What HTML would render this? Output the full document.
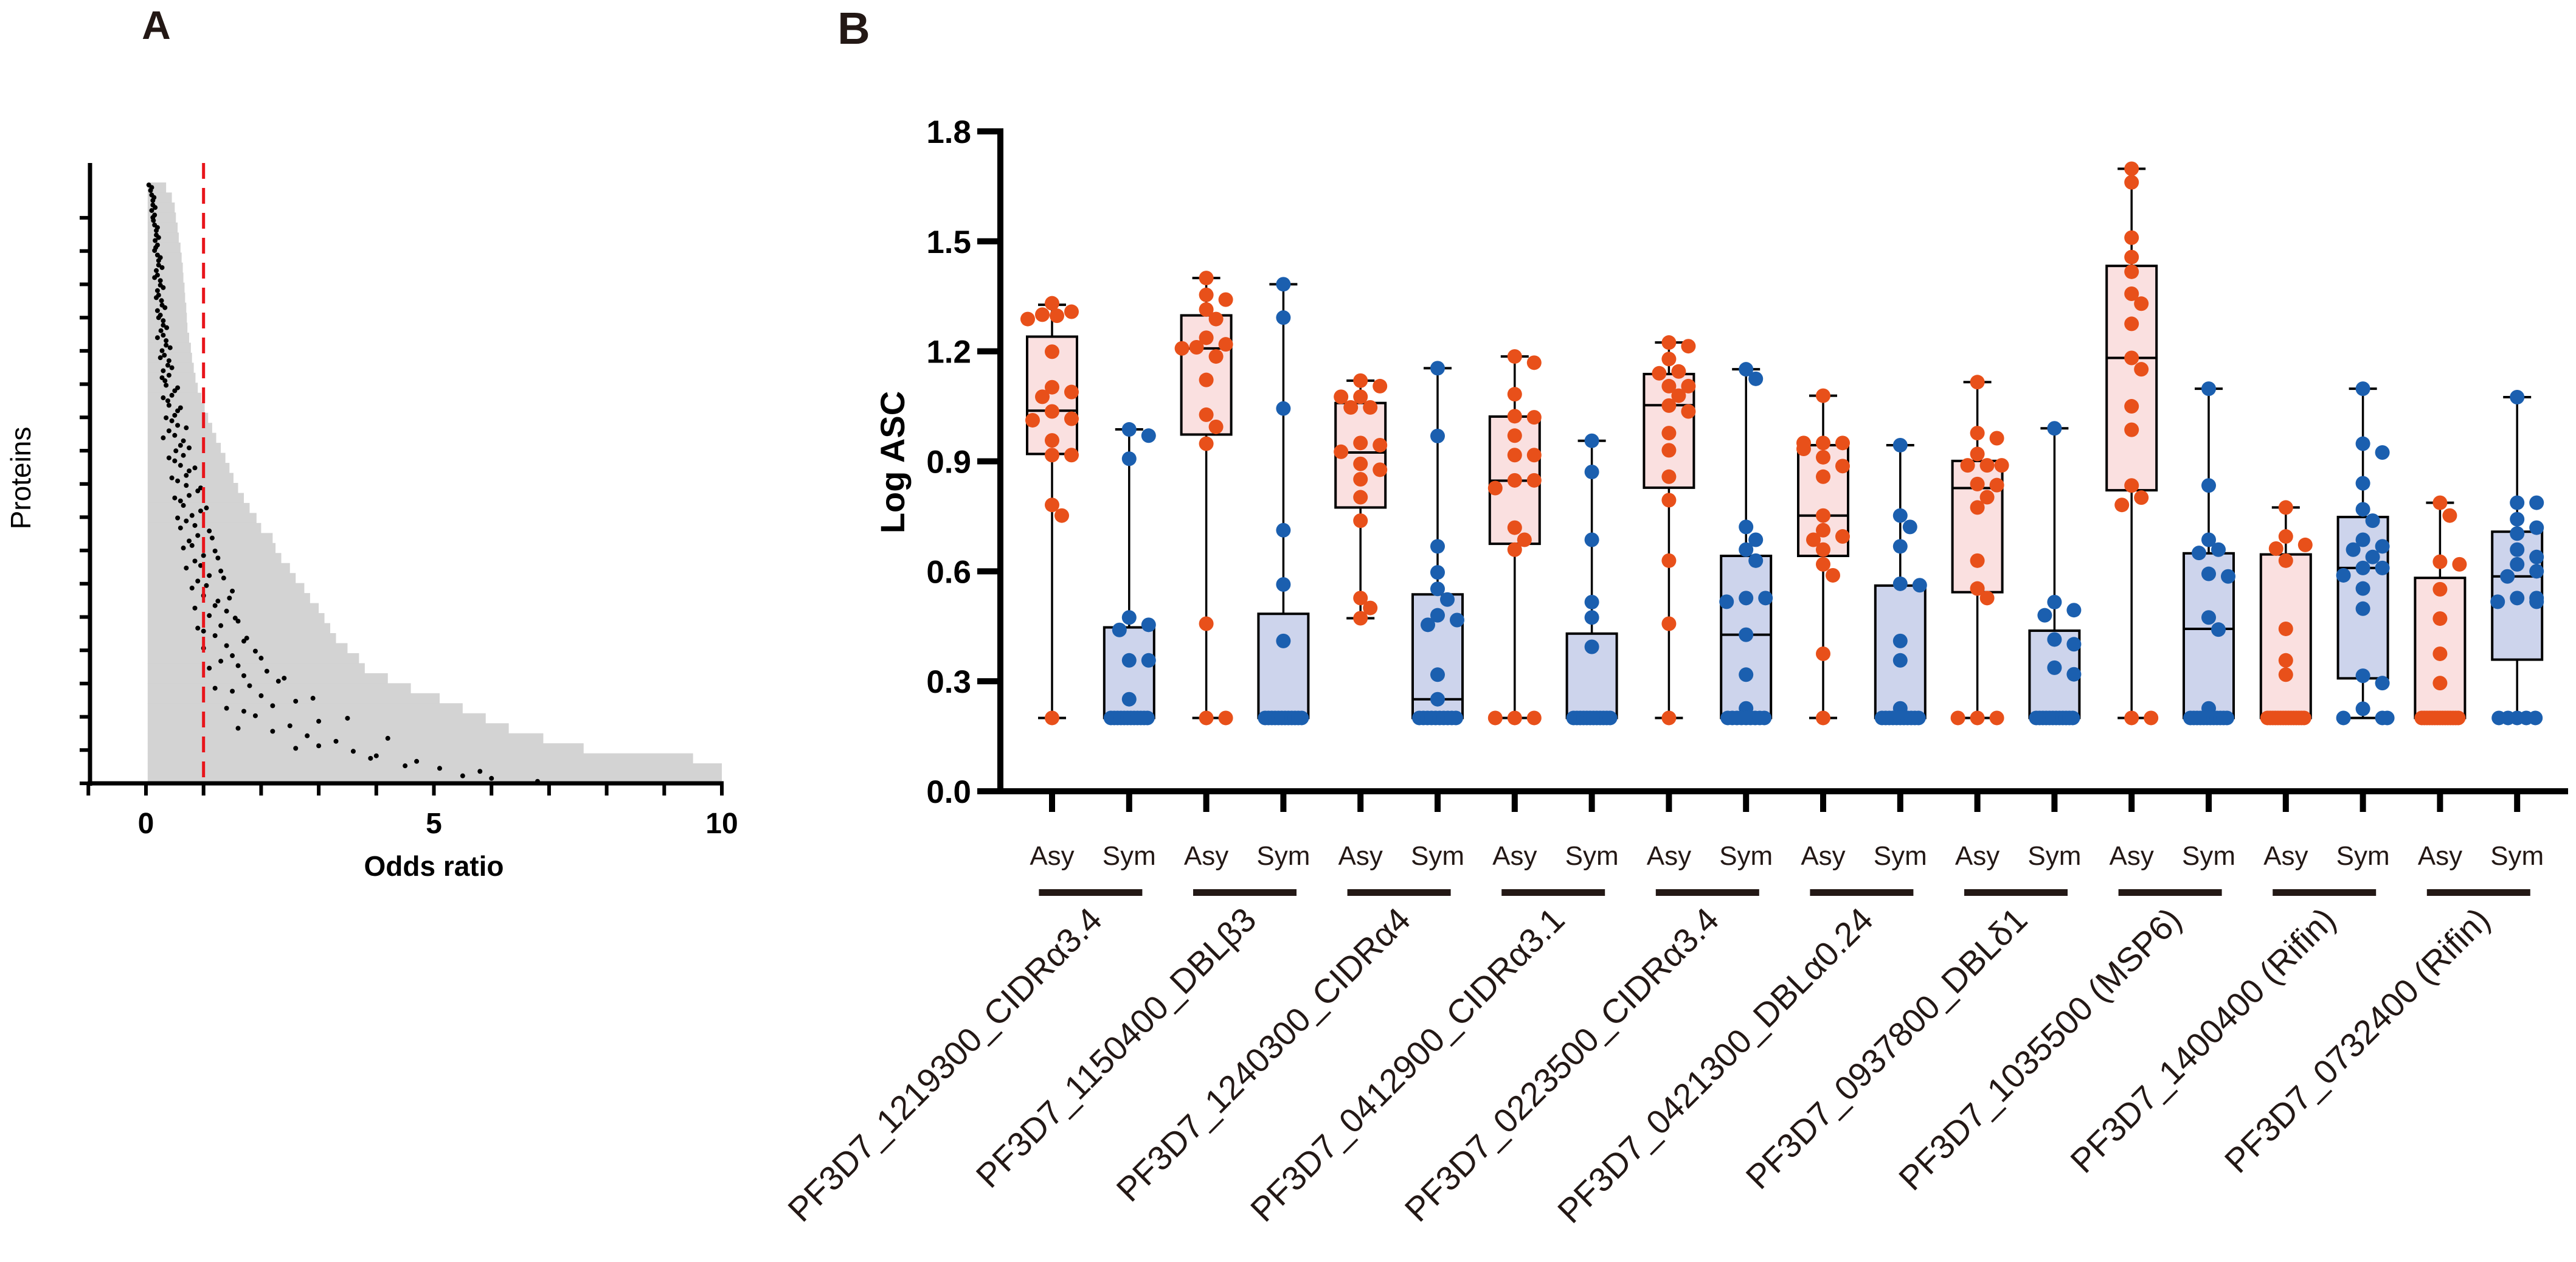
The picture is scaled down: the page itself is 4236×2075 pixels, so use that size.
<!DOCTYPE html>
<html><head><meta charset="utf-8"><style>
html,body{margin:0;padding:0;background:#fff;}
svg{display:block;font-family:"Liberation Sans",Arial,sans-serif;}
</style></head><body>
<svg id="fig" width="4236" height="2075" viewBox="0 0 4236 2075" xmlns="http://www.w3.org/2000/svg">
<rect width="4236" height="2075" fill="#fff"/>
<text x="257" y="64" font-size="66" font-weight="bold" text-anchor="middle" fill="#231815">A</text>
<text x="1404" y="72" font-size="74" font-weight="bold" text-anchor="middle" fill="#231815">B</text>
<g id="panelA"></g>
<g id="panelB"></g>
</svg>
<script>
// ---------- Panel A data ----------
const oddsUpper = [0.35,0.45,0.5,0.52,0.55,0.57,0.6,0.62,0.64,0.65,0.67,0.68,0.7,0.71,0.72,0.75,0.78,0.8,0.83,0.86,0.9,0.96,1.02,1.08,1.15,1.22,1.3,1.38,1.45,1.52,1.6,1.7,1.8,1.92,2.0,2.2,2.25,2.35,2.5,2.6,2.75,2.85,3.0,3.1,3.2,3.3,3.5,3.7,3.8,4.2,4.6,5.1,5.5,5.9,6.3,6.9,7.6,9.5,10,10];
const oddsPoint = [0.05,0.1,0.12,0.15,0.15,0.18,0.2,0.2,0.22,0.2,0.25,0.22,0.28,0.25,0.3,0.3,0.35,0.32,0.38,0.4,0.35,0.45,0.4,0.5,0.55,0.5,0.6,0.65,0.6,0.7,0.7,0.75,0.65,0.8,0.85,0.9,0.8,1.0,0.95,1.1,1.05,1.0,1.2,1.1,1.3,1.2,1.4,1.5,1.6,1.7,1.8,2.0,2.2,1.9,2.5,2.8,3.0,4.0,4.5,5.5];
const oddsPoint2 = [0.08,0.12,0.1,0.13,0.18,0.16,0.15,0.22,0.18,0.25,0.2,0.27,0.2,0.3,0.26,0.35,0.28,0.4,0.3,0.33,0.5,0.38,0.55,0.45,0.4,0.65,0.52,0.5,0.75,0.55,0.9,0.6,0.95,0.7,1.1,0.75,1.2,0.85,1.3,0.9,1.5,1.25,1.4,1.6,1.0,1.7,1.9,1.3,2.1,2.3,1.5,2.6,1.7,3.0,2.2,3.3,3.6,4.7,5.8,6.8];
const oddsPoint3 = [0.1,0.14,0.16,0.12,0.2,0.22,0.17,0.25,0.28,0.15,0.3,0.18,0.33,0.22,0.36,0.2,0.42,0.25,0.45,0.28,0.55,0.3,0.6,0.35,0.7,0.3,0.75,0.4,0.85,0.45,0.95,0.5,1.05,0.55,0.6,1.15,0.65,1.25,0.7,1.35,0.8,1.45,0.85,1.55,0.9,1.75,1.0,2.0,1.1,2.4,1.2,2.9,1.4,3.5,1.6,4.2,2.6,3.9,5.1,6.0];
const oddsTicks = [0,5,10];

// ---------- Panel B data ----------
const proteins = ["PF3D7_1219300_CIDRα3.4","PF3D7_1150400_DBLβ3","PF3D7_1240300_CIDRα4","PF3D7_0412900_CIDRα3.1","PF3D7_0223500_CIDRα3.4","PF3D7_0421300_DBLα0.24","PF3D7_0937800_DBLδ1","PF3D7_1035500 (MSP6)","PF3D7_1400400 (Rifin)","PF3D7_0732400 (Rifin)"];
const groupNames = ["Asy","Sym"];
const yTicks = [0.0,0.3,0.6,0.9,1.2,1.5,1.8];
// [min, q1, median, q3, max] per box, order: Asy1,Sym1,Asy2,Sym2,...
const boxStats = [
 [0.2,0.92,1.038,1.24,1.327],[0.2,0.2,0.2,0.447,0.987],
 [0.2,0.973,1.208,1.298,1.40],[0.2,0.2,0.2,0.484,1.383],
 [0.472,0.774,0.924,1.059,1.12],[0.2,0.2,0.251,0.537,1.154],
 [0.2,0.675,0.847,1.022,1.186],[0.2,0.2,0.2,0.43,0.956],
 [0.2,0.828,1.053,1.138,1.224],[0.2,0.2,0.427,0.642,1.151],
 [0.2,0.642,0.752,0.944,1.079],[0.2,0.2,0.2,0.561,0.944],
 [0.2,0.543,0.827,0.901,1.116],[0.2,0.2,0.2,0.438,0.99],
 [0.2,0.821,1.182,1.433,1.698],[0.2,0.2,0.443,0.649,1.098],
 [0.2,0.2,0.2,0.646,0.774],[0.2,0.308,0.609,0.748,1.098],
 [0.2,0.2,0.2,0.582,0.787],[0.2,0.359,0.586,0.708,1.075]
];
const pts0 = [1.331,1.308,1.30,1.297,1.288,1.199,1.102,1.089,1.076,1.036,1.016,1.012,0.957,0.917,0.917,0.781,0.752,0.2];
const pts1 = [0.987,0.97,0.907,0.474,0.454,0.44,0.357,0.357,0.251,0.2,0.2,0.2,0.2,0.2,0.2,0.2,0.2,0.2,0.2,0.2,0.2];
const pts2 = [1.40,1.354,1.341,1.314,1.288,1.237,1.219,1.211,1.208,1.186,1.122,1.027,0.994,0.948,0.457,0.2,0.2];
const pts3 = [1.383,1.292,1.044,0.712,0.564,0.41,0.2,0.2,0.2,0.2,0.2,0.2,0.2,0.2,0.2,0.2,0.2,0.2];
const pts4 = [1.12,1.105,1.076,1.076,1.047,1.047,0.95,0.944,0.926,0.893,0.877,0.851,0.802,0.738,0.527,0.5,0.472];
const pts5 = [1.154,0.969,0.668,0.597,0.552,0.523,0.48,0.467,0.454,0.318,0.251,0.2,0.2,0.2,0.2,0.2,0.2,0.2,0.2,0.2,0.2];
const pts6 = [1.186,1.169,1.083,1.023,1.02,0.97,0.917,0.917,0.848,0.848,0.827,0.719,0.686,0.659,0.2,0.2,0.2];
const pts7 = [0.956,0.871,0.686,0.516,0.474,0.394,0.2,0.2,0.2,0.2,0.2,0.2,0.2,0.2,0.2,0.2,0.2,0.2];
const pts8 = [1.224,1.214,1.179,1.145,1.14,1.105,1.105,1.079,1.052,1.036,0.977,0.93,0.858,0.794,0.629,0.457,0.2];
const pts9 = [1.151,1.125,0.721,0.686,0.659,0.629,0.527,0.527,0.517,0.427,0.318,0.226,0.2,0.2,0.2,0.2,0.2,0.2,0.2,0.2,0.2];
const pts10 = [1.079,0.95,0.95,0.95,0.934,0.911,0.887,0.858,0.752,0.712,0.695,0.686,0.659,0.619,0.589,0.375,0.2];
const pts11 = [0.944,0.752,0.721,0.668,0.566,0.562,0.41,0.357,0.226,0.2,0.2,0.2,0.2,0.2,0.2,0.2,0.2,0.2,0.2,0.2];
const pts12 = [1.116,0.977,0.963,0.92,0.889,0.889,0.889,0.838,0.835,0.802,0.774,0.629,0.553,0.527,0.2,0.2,0.2];
const pts13 = [0.99,0.516,0.494,0.48,0.414,0.401,0.337,0.319,0.2,0.2,0.2,0.2,0.2,0.2,0.2,0.2,0.2,0.2,0.2,0.2];
const pts14 = [1.698,1.661,1.51,1.457,1.417,1.357,1.33,1.275,1.182,1.151,1.05,0.986,0.834,0.801,0.781,0.2,0.2];
const pts15 = [1.098,0.834,0.686,0.659,0.65,0.593,0.586,0.474,0.441,0.226,0.2,0.2,0.2,0.2,0.2,0.2,0.2,0.2,0.2,0.2,0.2,0.2];
const pts16 = [0.774,0.695,0.672,0.662,0.629,0.443,0.357,0.318,0.2,0.2,0.2,0.2,0.2,0.2,0.2,0.2,0.2,0.2,0.2,0.2,0.2,0.2,0.2];
const pts17 = [1.098,0.948,0.924,0.84,0.769,0.738,0.686,0.668,0.659,0.639,0.609,0.609,0.589,0.553,0.498,0.315,0.295,0.225,0.2,0.2,0.2];
const pts18 = [0.787,0.752,0.626,0.619,0.551,0.471,0.375,0.295,0.2,0.2,0.2,0.2,0.2,0.2,0.2,0.2,0.2,0.2,0.2,0.2,0.2,0.2,0.2];
const pts19 = [1.075,0.787,0.787,0.742,0.719,0.703,0.659,0.639,0.619,0.6,0.586,0.527,0.527,0.517,0.517,0.2,0.2,0.2,0.2,0.2];
const allPts = [pts0,pts1,pts2,pts3,pts4,pts5,pts6,pts7,pts8,pts9,pts10,pts11,pts12,pts13,pts14,pts15,pts16,pts17,pts18,pts19];

const NS = "http://www.w3.org/2000/svg";
function mk(tag, attrs, parent){ const e=document.createElementNS(NS,tag); for(const k in attrs) e.setAttribute(k,attrs[k]); parent.appendChild(e); return e; }

// ---------- Panel A ----------
(function(){
 const g = document.getElementById('panelA');
 const X0=240, XU=94.7, YT=300, YB=1288;
 const xA = v => X0 + v*XU;
 const n = oddsUpper.length;
 const rowH = (YB-YT)/n;
 const yRow = i => YT + (i+0.5)*rowH;
 oddsUpper.forEach((u,i)=>{
  const r = mk('rect',{x:xA(0.03),y:YT+i*rowH,width:xA(u)-xA(0.03),height:rowH+0.6,fill:'#d3d3d3'},g);
  
  
 });
 const offs = [-0.25,0.3,0.0];
 [oddsPoint,oddsPoint2,oddsPoint3].forEach((arr,ai)=>arr.forEach((p,i)=>{
  const c = mk('circle',{cx:xA(p),cy:yRow(i)+rowH*offs[ai],r:4,fill:'#000'},g);
  
  
 }));
 const dl = mk('line',{x1:xA(1),x2:xA(1),y1:268,y2:YB,stroke:'#e8141a','stroke-width':5,'stroke-dasharray':'26 15'},g);
 
 
 const ya = mk('line',{x1:148,x2:148,y1:268,y2:YB+4,stroke:'#000','stroke-width':7},g);
 
 
 for(let k=0;k<18;k++){
  const yy = YB - k*54.7;
  const t = mk('line',{x1:131,x2:148,y1:yy,y2:yy,stroke:'#000','stroke-width':6},g);
  
  
 }
 const xa = mk('line',{x1:144,x2:xA(10)+3,y1:YB,y2:YB,stroke:'#000','stroke-width':7},g);
 
 
 for(let v=-1; v<=10; v++){
  const t = mk('line',{x1:xA(v),x2:xA(v),y1:YB,y2:YB+20,stroke:'#000','stroke-width':6},g);
  
  
 }
 oddsTicks.forEach(v=>{
  const t = mk('text',{x:xA(v),y:1370,'font-size':48,'font-weight':'bold','text-anchor':'middle',fill:'#000'},g);
  t.textContent = v;
  
  
 });
 const xt = mk('text',{x:xA(5),y:1440,'font-size':46,'font-weight':'bold','text-anchor':'middle',fill:'#000'},g);
 xt.textContent='Odds ratio';
 
 
 const yt = mk('text',{x:0,y:0,'font-size':46,'text-anchor':'middle',fill:'#000',transform:'translate(50,786) rotate(-90)'},g);
 yt.textContent='Proteins';
 
 
})();

// ---------- Panel B ----------
(function(){
 const g = document.getElementById('panelB');
 const Y0=1301, YU=602.8, AX=1645, X1=1730, STEP=126.8;
 const yB = v => Y0 - v*YU;
 const xB = i => X1 + i*STEP;
 const HW=41, CAP=23, R=12;
 const orange='#e8501a', blue='#1b5faf';
 boxStats.forEach((s,i)=>{
  const asy = i%2===0;
  const cx = xB(i);
  const bg = mk('g',{},g);
  
  
  mk('line',{x1:cx,x2:cx,y1:yB(s[4]),y2:yB(s[0]),stroke:'#000','stroke-width':3.5},bg);
  mk('line',{x1:cx-CAP,x2:cx+CAP,y1:yB(s[4]),y2:yB(s[4]),stroke:'#000','stroke-width':4},bg);
  mk('line',{x1:cx-CAP,x2:cx+CAP,y1:yB(s[0]),y2:yB(s[0]),stroke:'#000','stroke-width':4},bg);
  mk('rect',{x:cx-HW,y:yB(s[3]),width:2*HW,height:Math.max(yB(s[1])-yB(s[3]),0.5),fill:asy?'#fae0e0':'#cdd4ec',stroke:'#000','stroke-width':4},bg);
  mk('line',{x1:cx-HW,x2:cx+HW,y1:yB(s[2]),y2:yB(s[2]),stroke:'#000','stroke-width':4},bg);
  const vals = allPts[i].slice().sort((a,b)=>b-a);
  const placed = [];
  const minV = Math.min(...vals);
  const floorCount = vals.filter(v=>v===minV).length;
  let fk = 0;
  vals.forEach(v=>{
   const cy = yB(v);
   let ox;
   if(v===minV && floorCount>=4){
    ox = -30 + 60*fk/(floorCount-1); fk++;
   } else {
    const cands=[0,16,-16,32,-32,8,-8,24,-24,40,-40];
    ox = cands.find(o=>placed.every(p=>Math.hypot(p[0]-o,p[1]-cy)>=2*R-2));
    if(ox===undefined) ox = cands[placed.length%cands.length];
   }
   placed.push([ox,cy]);
   const c = mk('circle',{cx:cx+ox,cy:cy,r:R,fill:asy?orange:blue},g);
   
   
  });
 });
 const ya = mk('line',{x1:AX,x2:AX,y1:211,y2:Y0+5,stroke:'#000','stroke-width':10},g);
 
 
 const xa = mk('line',{x1:AX-5,x2:4223,y1:Y0,y2:Y0,stroke:'#000','stroke-width':10},g);
 
 
 yTicks.forEach(v=>{
  const t = mk('line',{x1:1607,x2:AX,y1:yB(v),y2:yB(v),stroke:'#000','stroke-width':10},g);
  
  
  const l = mk('text',{x:1597,y:yB(v)+19,'font-size':53,'font-weight':'bold','text-anchor':'end',fill:'#000'},g);
  l.textContent = v.toFixed(1);
  
  
 });
 const yt = mk('text',{x:0,y:0,'font-size':56,'font-weight':'bold','text-anchor':'middle',fill:'#000',transform:'translate(1487,760) rotate(-90)'},g);
 yt.textContent='Log ASC';
 
 
 boxStats.forEach((s,i)=>{
  const t = mk('line',{x1:xB(i),x2:xB(i),y1:Y0,y2:Y0+34,stroke:'#000','stroke-width':10},g);
  
  
  const l = mk('text',{x:xB(i),y:1422,'font-size':44,'text-anchor':'middle',fill:'#231815'},g);
  l.textContent = groupNames[i%2];
  
  
 });
 proteins.forEach((p,k)=>{
  const mid = (xB(2*k)+xB(2*k+1))/2;
  const b = mk('rect',{x:mid-85,y:1462,width:170,height:11,fill:'#231815'},g);
  
  
  const t = mk('text',{x:0,y:0,'font-size':56,'text-anchor':'end',fill:'#231815',transform:`translate(${mid+22},${1516}) rotate(-45)`},g);
  t.textContent = p;
  
  
 });
})();
</script>
</body></html>
